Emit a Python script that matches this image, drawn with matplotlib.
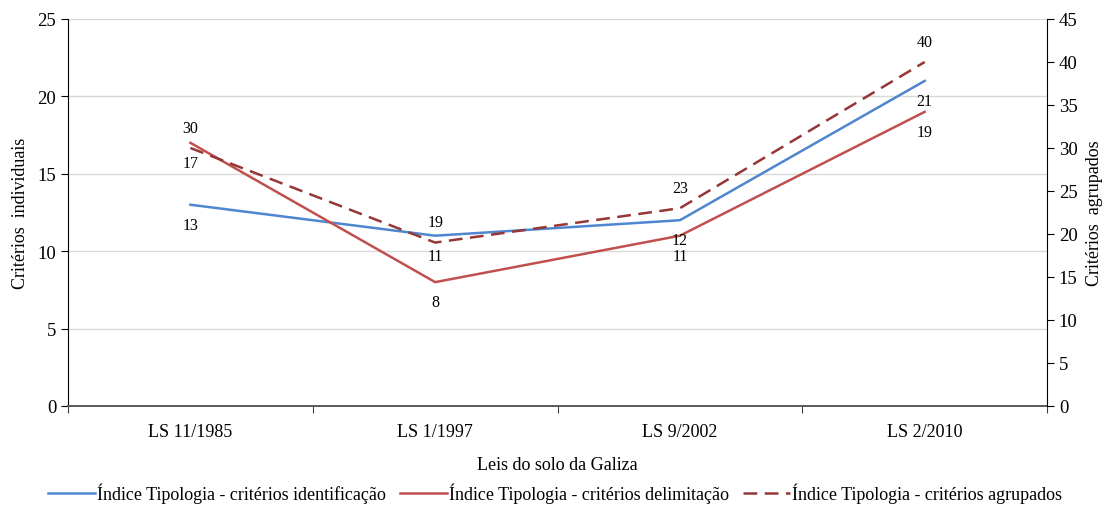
import matplotlib.pyplot as plt
import numpy as np

plt.rcParams['font.family'] = ['Liberation Serif', 'DejaVu Serif']

leis = ['LS 11/1985', 'LS 1/1997', 'LS 9/2002', 'LS 2/2010']
identificacao = [13, 11, 12, 21]
delimitacao = [17, 8, 11, 19]
agrupados = [30, 19, 23, 40]

C_BLUE = '#4F86CF'
C_RED = '#C0504D'
C_DARK = '#953735'

fig = plt.figure(figsize=(11.1, 5.06), dpi=100)
ax = fig.add_axes([0.0613, 0.1957, 0.8820, 0.7648])
ax2 = ax.twinx()

x = np.arange(len(leis)) + 0.5

l1, = ax.plot(x, identificacao, color=C_BLUE, lw=1.8,
              label='Índice Tipologia - critérios identificação')
l2, = ax.plot(x, delimitacao, color=C_RED, lw=1.8,
              label='Índice Tipologia - critérios delimitação')
l3, = ax2.plot(x, agrupados, color=C_DARK, lw=1.8, dashes=(5.5, 3),
               label='Índice Tipologia - critérios agrupados')

# value labels: solid series below the point, dashed series above
for xi, v in zip(x, identificacao):
    ax.annotate(str(v), (xi, v), xytext=(0, -14.5), textcoords='offset points',
                ha='center', va='center', fontsize=11.5)
for xi, v in zip(x, delimitacao):
    ax.annotate(str(v), (xi, v), xytext=(0, -14.5), textcoords='offset points',
                ha='center', va='center', fontsize=11.5)
for xi, v in zip(x, agrupados):
    ax2.annotate(str(v), (xi, v), xytext=(0, 14.5), textcoords='offset points',
                 ha='center', va='center', fontsize=11.5)

ax.set_xlim(0, len(leis))
ax.set_ylim(0, 25)
ax.set_yticks(np.arange(0, 26, 5))
ax2.set_ylim(0, 45)
ax2.set_yticks(np.arange(0, 46, 5))

ax.set_xticks(np.arange(len(leis) + 1))
ax.set_xticklabels([])
ax.set_xticks(x, minor=True)
ax.set_xticklabels(leis, minor=True)
ax.tick_params(axis='x', which='major', length=5, color='#404040', direction='out')
ax.tick_params(axis='x', which='minor', length=0, pad=12, labelsize=13)
ax.tick_params(axis='y', length=5, labelsize=13.5, direction='out')
ax2.tick_params(axis='y', length=5, labelsize=13.5, direction='out')

ax.grid(axis='y', color='#D9D9D9', lw=1)
ax.set_axisbelow(True)

for a in (ax, ax2):
    a.spines['top'].set_visible(False)
ax2.spines['bottom'].set_visible(False)
ax2.spines['left'].set_visible(False)
ax.spines['right'].set_visible(False)
ax.spines['bottom'].set_color('#595959')
ax.spines['bottom'].set_linewidth(1.4)

ax.set_ylabel('Critérios  individuais', fontsize=13, labelpad=6)
ax2.set_ylabel('Critérios  agrupados', fontsize=13, labelpad=6)
ax.set_xlabel('Leis do solo da Galiza', fontsize=13, labelpad=12)

fig.legend(handles=[l1, l2, l3], loc='center', bbox_to_anchor=(0.5, 0.024),
           ncol=3, frameon=False, fontsize=13, handlelength=2.6,
           handletextpad=0.1, columnspacing=0.8)

fig.savefig('out.png', dpi=100)
